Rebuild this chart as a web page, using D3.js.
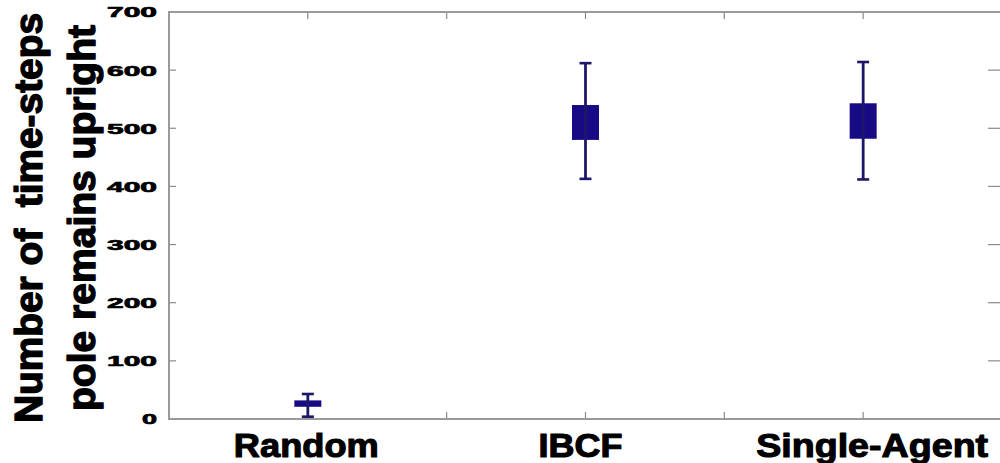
<!DOCTYPE html>
<html>
<head>
<meta charset="utf-8">
<script src="https://cdn.jsdelivr.net/npm/d3@7"></script>
<style>
  html, body { margin: 0; padding: 0; background: #ffffff; }
  svg { display: block; }
  text { font-family: "Liberation Sans", Arial, sans-serif; font-weight: bold; fill: #000; stroke: #000; stroke-linejoin: round; }
</style>
</head>
<body>
<svg id="chart" width="1000" height="463"></svg>
<script>
// Methods compared and their x positions on the axis
const categories = ["Random", "IBCF", "Single-Agent"];
const categoryPos = [1, 3, 5];
// Whisker ends and box edges (time-steps)
const whiskerLow  = [4, 413, 412];
const boxLow      = [21, 480, 482];
const boxHigh     = [32, 540, 543];
const whiskerHigh = [43, 612, 614];
// Axis ticks
const yTicks = [0, 100, 200, 300, 400, 500, 600, 700];
const xTicks = [1, 2, 3, 4, 5];
// Measured label widths, so the heavy lettering keeps its span
const yTickLabelWidth = 50;
const xLabelWidths = [145, 84, 232];

const svg = d3.select("#chart");
const plotLeft = 169, plotRight = 1002, plotTop = 12, plotBottom = 419;

const x = d3.scaleLinear().domain([0, 6]).range([plotLeft, plotRight]);
const y = d3.scaleLinear().domain([0, 700]).range([plotBottom, plotTop]);

const frameColor = "#9a9a9a";
const boxColor = "#180a85";
const whiskerColor = "#1d1767";

// Inward tick marks on all four sides
const tickLen = 7;
const tickG = svg.append("g").attr("stroke", "#8a8a8a").attr("stroke-width", 1.2);
yTicks.forEach(v => {
  tickG.append("line").attr("x1", plotLeft).attr("x2", plotLeft + tickLen).attr("y1", y(v)).attr("y2", y(v));
  tickG.append("line").attr("x1", plotRight - 14).attr("x2", plotRight).attr("y1", y(v)).attr("y2", y(v));
});
xTicks.forEach(v => {
  tickG.append("line").attr("x1", x(v)).attr("x2", x(v)).attr("y1", plotBottom).attr("y2", plotBottom - tickLen);
  tickG.append("line").attr("x1", x(v)).attr("x2", x(v)).attr("y1", plotTop).attr("y2", plotTop + tickLen);
});

// Plot frame
svg.append("rect")
  .attr("x", plotLeft).attr("y", plotTop)
  .attr("width", plotRight - plotLeft).attr("height", plotBottom - plotTop)
  .attr("fill", "none").attr("stroke", frameColor).attr("stroke-width", 2);

// Y tick labels
svg.append("g").selectAll("text").data(yTicks).join("text")
  .attr("x", 157).attr("y", d => y(d))
  .attr("dy", "0.36em")
  .attr("text-anchor", "end")
  .attr("font-size", 15)
  .attr("stroke-width", 0.7)
  .attr("textLength", d => d === 0 ? 15 : yTickLabelWidth)
  .attr("lengthAdjust", "spacingAndGlyphs")
  .text(d => d);

// Category labels
svg.append("g").selectAll("text").data(categories).join("text")
  .attr("x", (d, i) => x(categoryPos[i]) + [ -1.5, -5, 9 ][i])
  .attr("y", 457)
  .attr("text-anchor", "middle")
  .attr("font-size", 33)
  .attr("stroke-width", 1.1)
  .attr("textLength", (d, i) => xLabelWidths[i])
  .attr("lengthAdjust", "spacingAndGlyphs")
  .text(d => d);

// Y axis title, two rotated lines
const titleY = 218;
[["Number of  time-steps", 42, 410], ["pole remains upright", 95, 386]].forEach(([t, bx, len]) => {
  svg.append("text")
    .attr("transform", `translate(${bx},${titleY}) rotate(-90)`)
    .attr("text-anchor", "middle")
    .attr("font-size", 39)
    .attr("stroke-width", 1.4)
    .attr("textLength", len)
    .attr("lengthAdjust", "spacingAndGlyphs")
    .attr("xml:space", "preserve")
    .style("white-space", "pre")
    .text(t);
});

// Box-and-whisker markers
const boxW = 27, capW = 12;
const marks = svg.append("g");
categories.forEach((c, i) => {
  const cx = x(categoryPos[i]);
  const g = marks.append("g");
  g.append("rect")
    .attr("x", cx - boxW / 2).attr("y", y(boxHigh[i]))
    .attr("width", boxW).attr("height", y(boxLow[i]) - y(boxHigh[i]))
    .attr("fill", boxColor);
  g.append("line")
    .attr("x1", cx).attr("x2", cx)
    .attr("y1", y(whiskerLow[i])).attr("y2", y(whiskerHigh[i]))
    .attr("stroke", whiskerColor).attr("stroke-width", 2.8);
  [whiskerLow[i], whiskerHigh[i]].forEach(v => {
    g.append("line")
      .attr("x1", cx - capW / 2).attr("x2", cx + capW / 2)
      .attr("y1", y(v)).attr("y2", y(v))
      .attr("stroke", whiskerColor).attr("stroke-width", 2.6);
  });
});
</script>
</body>
</html>
